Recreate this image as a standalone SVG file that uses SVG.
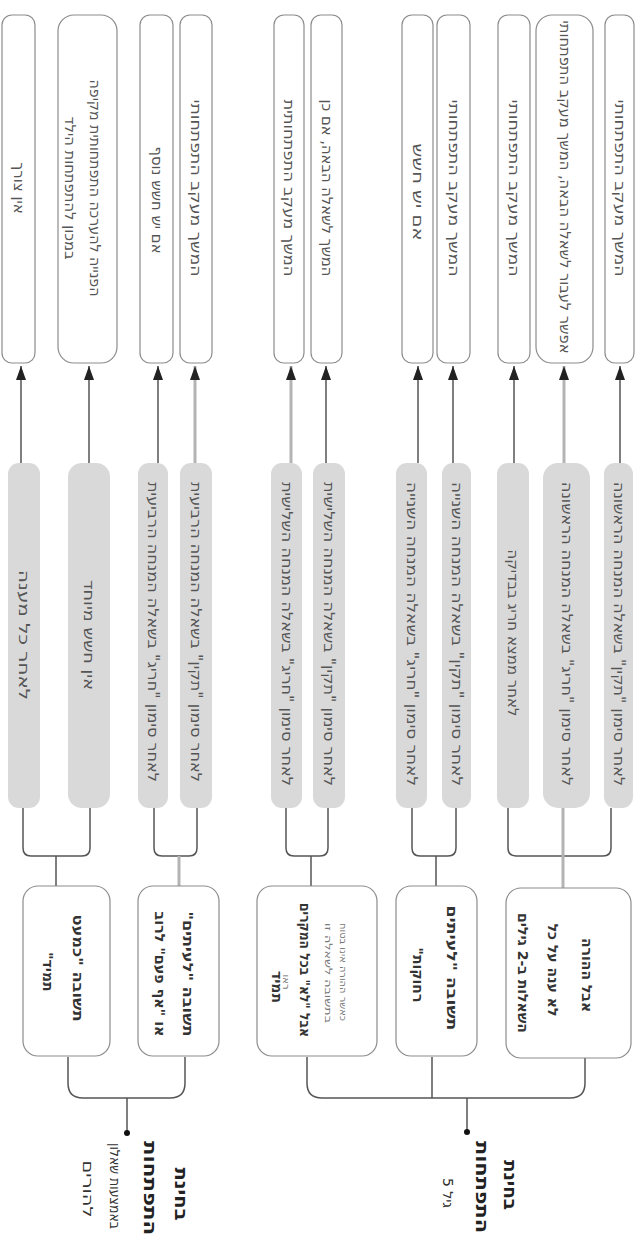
<svg xmlns="http://www.w3.org/2000/svg" width="642" height="1240" viewBox="0 0 642 1240">
<style>
.leaf{fill:#fff;stroke:#8c8c8c;stroke-width:1.2}
.gray{fill:#d9d9da}
.node{fill:#fff;stroke:#8c8c8c;stroke-width:1.2}
.ln{fill:none;stroke:#555;stroke-width:1.5}
.lt{fill:none;stroke:#b4b4b4;stroke-width:3}
.ar{fill:none;stroke:#555;stroke-width:1.5;marker-end:url(#ah)}
.art{fill:none;stroke:#b4b4b4;stroke-width:3;marker-end:url(#ah)}
text{font-family:"DejaVu Sans","Liberation Sans",sans-serif;direction:rtl;text-anchor:middle;dominant-baseline:central}
.tl{font-size:15px;fill:#555}
.tg{font-size:15px;fill:#555}
.tn{font-size:14px;font-weight:bold;fill:#333}
.ts{font-size:10px;fill:#777}
.tr{font-size:18px;font-weight:bold;fill:#222}
.trr{font-size:14px;fill:#333}
</style>
<defs>
<marker id="ah" viewBox="0 0 14 10" refX="14" refY="5" markerWidth="14" markerHeight="10" markerUnits="userSpaceOnUse" orient="auto">
<path d="M0,0 L14,5 L0,10 z" fill="#222"/>
</marker>
</defs>

<g id="connectors">
<path class="ar" d="M21,463 V366"/>
<path class="ar" d="M89,463 V366"/>
<path class="ar" d="M158,463 V366"/>
<path class="art" d="M195,463 V366"/>
<path class="art" d="M291,463 V366"/>
<path class="ar" d="M326,463 V366"/>
<path class="ar" d="M418,463 V366"/>
<path class="ar" d="M453,463 V366"/>
<path class="ar" d="M514,463 V366"/>
<path class="art" d="M564,463 V366"/>
<path class="ar" d="M620,463 V366"/>

<path class="ln" d="M23,808 V848 Q23,856 31,856 H82 Q90,856 90,848 V808"/>
<path class="ln" d="M56,856 V886"/>
<path class="ln" d="M154,808 V848 Q154,856 162,856 H189 Q197,856 197,848 V808"/>
<path class="lt" d="M179,856 V886"/>
<path class="ln" d="M286,808 V848 Q286,856 294,856 H320 Q328,856 328,848 V808"/>
<path class="ln" d="M311,856 V886"/>
<path class="ln" d="M412,808 V848 Q412,856 420,856 H448 Q456,856 456,848 V808"/>
<path class="ln" d="M436,856 V886"/>
<path class="ln" d="M508,808 V848 Q508,856 516,856 H603 Q611,856 611,848 V808"/>
<path class="lt" d="M563,808 V888"/>

<path class="ln" d="M68,1057 V1083 Q68,1098 83,1098 H170 Q185,1098 185,1083 V1057"/>
<path class="ln" d="M127,1098 V1133"/>
<circle cx="127" cy="1133" r="3" fill="#111"/>
<path class="ln" d="M307,1057 V1083 Q307,1098 322,1098 H570 Q585,1098 585,1083 V1057"/>
<path class="ln" d="M432,1057 V1098"/>
<path class="ln" d="M467,1098 V1132"/>
<circle cx="467" cy="1132" r="3" fill="#111"/>
</g>

<g id="leaf1"><rect class="leaf" x="2" y="15" width="33" height="348" rx="10"/>
<text class="tl" transform="translate(18.5,188) rotate(90)">אין צורך</text></g>
<g id="leaf2"><rect class="leaf" x="58" y="15" width="59" height="348" rx="16"/>
<text class="tl" transform="translate(95,188) rotate(90)" textLength="217" lengthAdjust="spacingAndGlyphs">הפנייה להערכה התפתחותית מקיפה</text>
<text class="tl" transform="translate(70,188) rotate(90)" textLength="143" lengthAdjust="spacingAndGlyphs">במכון להתפתחות הילד</text></g>
<g id="leaf3"><rect class="leaf" x="140" y="15" width="33" height="348" rx="10"/>
<text class="tl" transform="translate(156.5,200) rotate(90)" textLength="107" lengthAdjust="spacingAndGlyphs">אם יש חשש נוסף</text></g>
<g id="leaf4"><rect class="leaf" x="180" y="15" width="32" height="348" rx="10"/>
<text class="tl" transform="translate(196,188) rotate(90)" textLength="177" lengthAdjust="spacingAndGlyphs">המשך מעקב התפתחותי</text></g>
<g id="leaf5"><rect class="leaf" x="274" y="15" width="30" height="348" rx="10"/>
<text class="tl" transform="translate(289,188) rotate(90)" textLength="177" lengthAdjust="spacingAndGlyphs">המשך מעקב התפתחותית</text></g>
<g id="leaf6"><rect class="leaf" x="311" y="15" width="31" height="348" rx="10"/>
<text class="tl" transform="translate(326.5,188) rotate(90)" textLength="177" lengthAdjust="spacingAndGlyphs">המשך לשאלה הבאה, אם כן</text></g>
<g id="leaf7"><rect class="leaf" x="402" y="15" width="31" height="348" rx="10"/>
<text class="tl" transform="translate(417.5,192) rotate(90)" textLength="97" lengthAdjust="spacingAndGlyphs">אם יש חשש</text></g>
<g id="leaf8"><rect class="leaf" x="437" y="15" width="33" height="348" rx="10"/>
<text class="tl" transform="translate(453.5,188) rotate(90)" textLength="177" lengthAdjust="spacingAndGlyphs">המשך מעקב התפתחותי</text></g>
<g id="leaf9"><rect class="leaf" x="498" y="15" width="32" height="348" rx="10"/>
<text class="tl" transform="translate(514,188) rotate(90)" textLength="177" lengthAdjust="spacingAndGlyphs">המשך מעקב התפתחותי</text></g>
<g id="leaf10"><rect class="leaf" x="536" y="15" width="57" height="348" rx="16"/>
<text class="tl" transform="translate(564.5,187) rotate(90)" textLength="333" lengthAdjust="spacingAndGlyphs">אפשר לעבור לשאלה הבאה, המשך מעקב התפתחותי</text></g>
<g id="leaf11"><rect class="leaf" x="605" y="15" width="29" height="348" rx="10"/>
<text class="tl" transform="translate(619.5,188) rotate(90)" textLength="177" lengthAdjust="spacingAndGlyphs">המשך מעקב התפתחותי</text></g>

<g id="gray1"><rect class="gray" x="8" y="463" width="32" height="345" rx="11"/>
<text class="tg" transform="translate(24,635) rotate(90)" textLength="130" lengthAdjust="spacingAndGlyphs">לאחר כל מענה</text></g>
<g id="gray2"><rect class="gray" x="68" y="463" width="42" height="345" rx="14"/>
<text class="tg" transform="translate(89,635) rotate(90)" textLength="110" lengthAdjust="spacingAndGlyphs">אין חשש מיוחד</text></g>
<g id="gray3"><rect class="gray" x="138" y="463" width="30" height="345" rx="11"/>
<text class="tg" transform="translate(153,632) rotate(90)" textLength="300" lengthAdjust="spacingAndGlyphs">לאחר סימון "חריג" בשאלה המנחה הרביעית</text></g>
<g id="gray4"><rect class="gray" x="180" y="463" width="32" height="345" rx="11"/>
<text class="tg" transform="translate(196,632) rotate(90)" textLength="300" lengthAdjust="spacingAndGlyphs">לאחר סימון "תקין" בשאלה המנחה הרביעית</text></g>
<g id="gray5"><rect class="gray" x="271" y="463" width="31" height="345" rx="11"/>
<text class="tg" transform="translate(286.5,634) rotate(90)" textLength="304" lengthAdjust="spacingAndGlyphs">לאחר סימון "חריג" בשאלה המנחה השלישית</text></g>
<g id="gray6"><rect class="gray" x="313" y="463" width="32" height="345" rx="11"/>
<text class="tg" transform="translate(329,634) rotate(90)" textLength="304" lengthAdjust="spacingAndGlyphs">לאחר סימון "תקין" בשאלה המנחה השלישית</text></g>
<g id="gray7"><rect class="gray" x="396" y="463" width="31" height="345" rx="11"/>
<text class="tg" transform="translate(411.5,634) rotate(90)" textLength="304" lengthAdjust="spacingAndGlyphs">לאחר סימון "חריג" בשאלה המנחה השנייה</text></g>
<g id="gray8"><rect class="gray" x="442" y="463" width="29" height="345" rx="11"/>
<text class="tg" transform="translate(456.5,634) rotate(90)" textLength="304" lengthAdjust="spacingAndGlyphs">לאחר סימון "תקין" בשאלה המנחה השנייה</text></g>
<g id="gray9"><rect class="gray" x="497" y="463" width="32" height="345" rx="11"/>
<text class="tg" transform="translate(513,633) rotate(90)" textLength="167" lengthAdjust="spacingAndGlyphs">לאחר ממצא חריג בבדיקה</text></g>
<g id="gray10"><rect class="gray" x="543" y="463" width="47" height="345" rx="15"/>
<text class="tg" transform="translate(566.5,634) rotate(90)" textLength="304" lengthAdjust="spacingAndGlyphs">לאחר סימון "חריג" בשאלה המנחה הראשונה</text></g>
<g id="gray11"><rect class="gray" x="604" y="463" width="29" height="345" rx="11"/>
<text class="tg" transform="translate(618.5,634) rotate(90)" textLength="304" lengthAdjust="spacingAndGlyphs">לאחר סימון "תקין" בשאלה המנחה הראשונה</text></g>

<g id="node1"><rect class="node" x="23" y="886" width="87" height="170" rx="15"/>
<text class="tn" transform="translate(78,968) rotate(90)" textLength="107" lengthAdjust="spacingAndGlyphs">תשובה "כמעט</text>
<text class="tn" transform="translate(48,972) rotate(90)">תמיד"</text></g>
<g id="node2"><rect class="node" x="138" y="886" width="81" height="170" rx="15"/>
<text class="tn" transform="translate(188,974) rotate(90)" textLength="125" lengthAdjust="spacingAndGlyphs">תשובה "לעיתים"</text>
<text class="tn" transform="translate(160,974) rotate(90)" textLength="125" lengthAdjust="spacingAndGlyphs">או "אף פעם" לרוב</text></g>
<g id="node3"><rect class="node" x="257" y="886" width="120" height="170" rx="15"/>
<text class="ts" transform="translate(343,972) rotate(90)" textLength="98" lengthAdjust="spacingAndGlyphs">כאשר ההורה אינו בטוח</text>
<text class="ts" transform="translate(328,973) rotate(90)" textLength="100" lengthAdjust="spacingAndGlyphs">בתשובה לשאלה זו</text>
<text class="tn" transform="translate(305,970) rotate(90)" textLength="134" lengthAdjust="spacingAndGlyphs">אבל "לא" בכל המקרים</text>
<text class="ts" transform="translate(286,982) rotate(90)">ראו</text>
<text class="tn" transform="translate(277,987) rotate(90)">תמיד</text></g>
<g id="node4"><rect class="node" x="396" y="886" width="81" height="170" rx="15"/>
<text class="tn" transform="translate(452,968) rotate(90)" textLength="125" lengthAdjust="spacingAndGlyphs">תשובה "לעיתים</text>
<text class="tn" transform="translate(418,975) rotate(90)">רחוקות"</text></g>
<g id="node5"><rect class="node" x="506" y="888" width="125" height="170" rx="15"/>
<text class="tn" transform="translate(587,975) rotate(90)">אבל ההורה</text>
<text class="tn" transform="translate(553,970) rotate(90)">לא ענה על כל</text>
<text class="tn" transform="translate(523,973) rotate(90)">השאלות ב-2 גילים</text></g>

<g id="root1">
<text class="tr" transform="translate(181,1194) rotate(90)" textLength="53" lengthAdjust="spacingAndGlyphs">בחינת</text>
<text class="tr" transform="translate(150,1188) rotate(90)" textLength="94" lengthAdjust="spacingAndGlyphs">התפתחות</text>
<text class="trr" transform="translate(115,1186) rotate(90)" textLength="86" lengthAdjust="spacingAndGlyphs">באמצעות שאלון</text>
<text class="trr" transform="translate(88,1189) rotate(90)" textLength="57" lengthAdjust="spacingAndGlyphs">להורים</text>
</g>
<g id="root2">
<text class="tr" transform="translate(510,1185) rotate(90)" textLength="50" lengthAdjust="spacingAndGlyphs">בחינת</text>
<text class="tr" transform="translate(482,1187) rotate(90)" textLength="92" lengthAdjust="spacingAndGlyphs">התפתחות</text>
<text class="trr" transform="translate(448,1193) rotate(90)">גיל 5</text>
</g>
</svg>
